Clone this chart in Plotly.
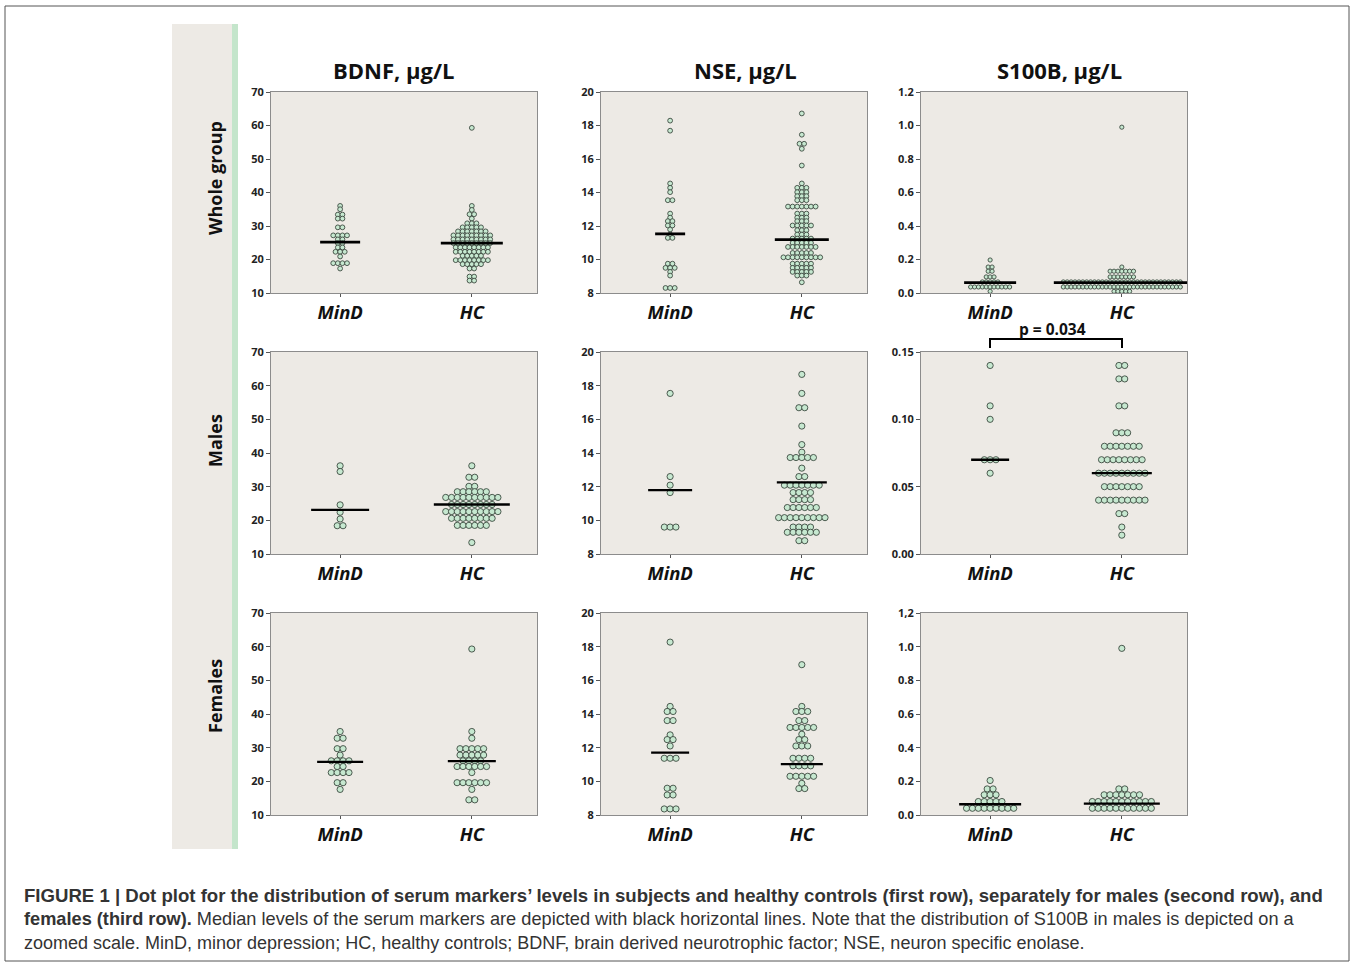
import plotly.graph_objects as go

# ---------------- DATA ----------------
GROUPS = ["MinD", "HC"]
MARKERS = ["BDNF, μg/L", "NSE, μg/L", "S100B, μg/L"]
ROW_LABELS = ["Whole group", "Males", "Females"]

# Whole group
bdnf_all_mind_lv = [36.0, 35.0, 33.4, 32.2, 29.6, 27.2, 26.0, 24.9, 23.6, 22.3, 20.9, 18.9, 17.3]
bdnf_all_mind_n = [1, 1, 2, 2, 2, 4, 2, 2, 2, 3, 1, 4, 1]
bdnf_all_hc_lv = [59.3, 36.0, 34.8, 33.5, 32.2, 30.8, 29.6, 28.4, 27.2, 26.0, 24.9, 23.6, 22.3, 21.1, 19.8, 18.6, 17.3, 14.9, 13.7]
bdnf_all_hc_n = [1, 1, 1, 2, 1, 3, 5, 7, 9, 9, 9, 8, 8, 5, 8, 5, 2, 2, 2]
nse_all_mind_lv = [18.29, 17.69, 14.54, 14.28, 14.02, 13.54, 12.74, 12.5, 12.29, 12.03, 11.79, 11.49, 11.29, 9.75, 9.5, 9.26, 9.04, 8.3]
nse_all_mind_n = [1, 1, 1, 1, 1, 2, 1, 1, 2, 2, 1, 1, 2, 2, 3, 1, 1, 3]
nse_all_hc_lv = [18.72, 17.45, 16.91, 16.61, 15.61, 14.54, 14.28, 14.02, 13.78, 13.54, 13.16, 12.74, 12.5, 12.29, 12.03, 11.75, 11.49, 11.25, 10.99, 10.75, 10.39, 10.13, 9.75, 9.5, 9.26, 9.04, 8.64]
nse_all_hc_n = [1, 1, 2, 1, 1, 1, 3, 3, 3, 3, 7, 3, 3, 3, 5, 3, 3, 5, 5, 7, 5, 9, 5, 5, 5, 3, 1]
s100b_all_mind_lv = [0.197, 0.155, 0.13, 0.096, 0.066, 0.036, 0.01]
s100b_all_mind_n = [1, 2, 2, 3, 5, 11, 1]
s100b_all_hc_lv = [0.99, 0.155, 0.13, 0.096, 0.066, 0.036, 0.01]
s100b_all_hc_n = [1, 1, 7, 7, 31, 31, 5]

# Males
bdnf_m_mind_lv = [36.2, 34.5, 24.6, 22.4, 20.4, 18.4]
bdnf_m_mind_n = [1, 1, 1, 1, 1, 2]
bdnf_m_hc_lv = [36.2, 32.8, 30.1, 28.5, 26.8, 24.7, 22.6, 20.6, 18.5, 13.4]
bdnf_m_hc_n = [1, 2, 2, 6, 10, 8, 10, 8, 6, 1]
nse_m_mind_lv = [17.54, 12.6, 12.09, 11.65, 9.6]
nse_m_mind_n = [1, 1, 1, 1, 3]
nse_m_hc_lv = [18.67, 17.54, 16.69, 15.6, 14.5, 14.05, 13.73, 13.1, 12.6, 12.09, 11.65, 11.23, 10.76, 10.16, 9.6, 9.29, 8.79]
nse_m_hc_n = [1, 1, 2, 1, 1, 1, 5, 1, 2, 7, 4, 4, 6, 9, 4, 6, 2]
s100b_m_mind_lv = [0.14, 0.11, 0.10, 0.07, 0.06]
s100b_m_mind_n = [1, 1, 1, 3, 1]
s100b_m_hc_lv = [0.14, 0.13, 0.11, 0.09, 0.08, 0.07, 0.06, 0.05, 0.04, 0.03, 0.02, 0.014]
s100b_m_hc_n = [2, 2, 2, 3, 7, 8, 9, 7, 9, 2, 1, 1]

# Females
bdnf_f_mind_lv = [34.8, 32.8, 29.7, 27.8, 26.1, 24.4, 22.6, 19.6, 17.6]
bdnf_f_mind_n = [1, 2, 2, 1, 4, 2, 4, 2, 1]
bdnf_f_hc_lv = [59.3, 34.8, 32.8, 29.7, 27.8, 26.1, 24.4, 22.6, 19.6, 17.6, 14.5]
bdnf_f_hc_n = [1, 1, 1, 5, 5, 4, 6, 1, 6, 1, 2]
nse_f_mind_lv = [18.27, 14.45, 14.15, 13.61, 12.76, 12.48, 12.1, 11.37, 9.59, 9.19, 8.36]
nse_f_mind_n = [1, 1, 2, 2, 1, 2, 1, 3, 2, 2, 3]
nse_f_hc_lv = [16.93, 14.45, 14.15, 13.61, 13.2, 12.8, 12.48, 12.1, 11.37, 10.92, 10.3, 9.88, 9.57]
nse_f_hc_n = [1, 1, 3, 2, 5, 1, 2, 3, 4, 4, 5, 1, 2]
s100b_f_mind_lv = [0.205, 0.155, 0.12, 0.08, 0.04]
s100b_f_mind_n = [1, 2, 3, 5, 9]
s100b_f_hc_lv = [0.99, 0.155, 0.12, 0.08, 0.04]
s100b_f_hc_n = [1, 2, 7, 11, 11]

# Medians [MinD, HC]
med_bdnf_all = [25.2, 24.9]
med_nse_all = [11.53, 11.19]
med_s100b_all = [0.062, 0.062]
med_bdnf_m = [23.1, 24.7]
med_nse_m = [11.79, 12.26]
med_s100b_m = [0.07, 0.06]
med_bdnf_f = [25.8, 26.0]
med_nse_f = [11.71, 11.02]
med_s100b_f = [0.064, 0.068]

P_TEXT = "p = 0.034"

CAPTION_1 = ("FIGURE 1 | Dot plot for the distribution of serum markers\u2019 levels in subjects and healthy "
             "controls (first row), separately for males (second row), and")
CAPTION_2B = "females (third row)."
CAPTION_2 = (" Median levels of the serum markers are depicted with black horizontal lines. Note that the "
             "distribution of S100B in males is depicted on a")
CAPTION_3 = ("zoomed scale. MinD, minor depression; HC, healthy controls; BDNF, brain derived neurotrophic "
             "factor; NSE, neuron specific enolase.")

# Y axis ranges / ticks per panel (row, col)
Y_RANGES = [[(10, 70), (8, 20), (0, 1.2)],
            [(10, 70), (8, 20), (0, 0.15)],
            [(10, 70), (8, 20), (0, 1.2)]]
BDNF_TICKS = [10, 20, 30, 40, 50, 60, 70]
NSE_TICKS = [8, 10, 12, 14, 16, 18, 20]
S100B_TICKS = [0.0, 0.2, 0.4, 0.6, 0.8, 1.0, 1.2]
S100B_TICKTEXT_ALL = ["0.0", "0.2", "0.4", "0.6", "0.8", "1.0", "1.2"]
S100B_TICKTEXT_F = ["0.0", "0.2", "0.4", "0.6", "0.8", "1.0", "1,2"]
S100B_M_TICKS = [0.0, 0.05, 0.10, 0.15]
S100B_M_TICKTEXT = ["0.00", "0.05", "0.10", "0.15"]

# ---------------- LAYOUT CONSTANTS ----------------
W, H = 1354, 967
COL_X = [(271, 537), (601, 867), (921, 1187)]
ROW_Y = [(92, 293), (352, 554), (613, 815)]
XR = [-0.525, 1.495]
DOT_SP = [[4.6, 4.6, 3.9], [5.8, 5.8, 5.8], [5.9, 5.9, 5.9]]
DOT_SZ = [[4.8, 4.8, 4.2], [6.2, 6.2, 6.2], [6.2, 6.2, 6.2]]
MED_HALF = [[[20, 31], [15, 27], [26, 68]],
            [[29, 38], [22, 25], [19, 30]],
            [[23, 24], [19, 21], [31, 38]]]
MED_W = [2.8, 2.3, 2.3]
BG = "#edeae5"
DOT_FILL = "#c6e8d0"
DOT_LINE = "#3c4a40"
FONT = "Open Sans"

DATA = [
    [[(bdnf_all_mind_lv, bdnf_all_mind_n), (bdnf_all_hc_lv, bdnf_all_hc_n)],
     [(nse_all_mind_lv, nse_all_mind_n), (nse_all_hc_lv, nse_all_hc_n)],
     [(s100b_all_mind_lv, s100b_all_mind_n), (s100b_all_hc_lv, s100b_all_hc_n)]],
    [[(bdnf_m_mind_lv, bdnf_m_mind_n), (bdnf_m_hc_lv, bdnf_m_hc_n)],
     [(nse_m_mind_lv, nse_m_mind_n), (nse_m_hc_lv, nse_m_hc_n)],
     [(s100b_m_mind_lv, s100b_m_mind_n), (s100b_m_hc_lv, s100b_m_hc_n)]],
    [[(bdnf_f_mind_lv, bdnf_f_mind_n), (bdnf_f_hc_lv, bdnf_f_hc_n)],
     [(nse_f_mind_lv, nse_f_mind_n), (nse_f_hc_lv, nse_f_hc_n)],
     [(s100b_f_mind_lv, s100b_f_mind_n), (s100b_f_hc_lv, s100b_f_hc_n)]],
]
MEDIANS = [[med_bdnf_all, med_nse_all, med_s100b_all],
           [med_bdnf_m, med_nse_m, med_s100b_m],
           [med_bdnf_f, med_nse_f, med_s100b_f]]


def px2fx(px):
    return px / W


def py2fy(py):
    return 1 - py / H


fig = go.Figure()
layout = dict(width=W, height=H, autosize=False,
              margin=dict(l=0, r=0, t=0, b=0, pad=0, autoexpand=False),
              paper_bgcolor="white", plot_bgcolor=BG, showlegend=False,
              font=dict(family=FONT, color="#222222"))

for r in range(3):
    for c in range(3):
        k = r * 3 + c + 1
        xa = "xaxis" if k == 1 else f"xaxis{k}"
        ya = "yaxis" if k == 1 else f"yaxis{k}"
        xref = "x" if k == 1 else f"x{k}"
        yref = "y" if k == 1 else f"y{k}"
        x0, x1 = COL_X[c]
        y0, y1 = ROW_Y[r]
        upp = (XR[1] - XR[0]) / (x1 - x0)
        layout[xa] = dict(domain=[px2fx(x0), px2fx(x1)], range=XR, anchor=yref,
                          automargin=False,
                          tickvals=[0, 1], ticktext=GROUPS, ticks="outside", ticklen=3,
                          tickcolor="#555", showgrid=False, zeroline=False,
                          showline=True, mirror=True, linecolor="#8c8c8c", linewidth=1,
                          tickfont=dict(family=FONT, size=18.5, weight="bold", style="italic",
                                        color="#111"), fixedrange=True)
        yr = Y_RANGES[r][c]
        if c == 0:
            tv, tt = BDNF_TICKS, [str(v) for v in BDNF_TICKS]
        elif c == 1:
            tv, tt = NSE_TICKS, [str(v) for v in NSE_TICKS]
        elif r == 1:
            tv, tt = S100B_M_TICKS, S100B_M_TICKTEXT
        elif r == 2:
            tv, tt = S100B_TICKS, S100B_TICKTEXT_F
        else:
            tv, tt = S100B_TICKS, S100B_TICKTEXT_ALL
        layout[ya] = dict(domain=[py2fy(y1), py2fy(y0)], range=list(yr), anchor=xref,
                          automargin=False,
                          tickvals=tv, ticktext=tt, ticks="outside", ticklen=4, tickcolor="#555",
                          showgrid=False, zeroline=False, showline=True, mirror=True,
                          linecolor="#8c8c8c", linewidth=1,
                          tickfont=dict(family=FONT, size=11, weight="bold", color="#222"),
                          fixedrange=True)
        for g in range(2):
            lv, ns = DATA[r][c][g]
            xs, ys = [], []
            for v, n in zip(lv, ns):
                for i in range(n):
                    off = (i - (n - 1) / 2) * DOT_SP[r][c] * upp
                    xs.append(g + off)
                    ys.append(v)
            fig.add_trace(go.Scatter(x=xs, y=ys, xaxis=xref, yaxis=yref, mode="markers",
                                     marker=dict(size=DOT_SZ[r][c], color=DOT_FILL,
                                                 line=dict(color=DOT_LINE, width=0.9)),
                                     hoverinfo="skip", cliponaxis=False))
            m = MEDIANS[r][c][g]
            hw = MED_HALF[r][c][g] * upp
            fig.add_trace(go.Scatter(x=[g - hw, g + hw], y=[m, m], xaxis=xref, yaxis=yref,
                                     mode="lines", line=dict(color="black", width=MED_W[r]),
                                     hoverinfo="skip"))

shapes = []
annotations = []
# outer border
shapes.append(dict(type="rect", xref="paper", yref="paper", x0=px2fx(5), x1=px2fx(1349),
                   y0=py2fy(961), y1=py2fy(6), line=dict(color="#555", width=1)))
# row label panel
shapes.append(dict(type="rect", xref="paper", yref="paper", x0=px2fx(172), x1=px2fx(232),
                   y0=py2fy(849), y1=py2fy(24), fillcolor=BG, line=dict(width=0), layer="below"))
shapes.append(dict(type="rect", xref="paper", yref="paper", x0=px2fx(232), x1=px2fx(238),
                   y0=py2fy(849), y1=py2fy(24), fillcolor="#c4e5cb", line=dict(width=0),
                   layer="below"))
# p-value bracket
shapes.append(dict(type="path", xref="paper", yref="paper",
                   path=(f"M {px2fx(990)} {py2fy(348)} L {px2fx(990)} {py2fy(339)} "
                         f"L {px2fx(1122)} {py2fy(339)} L {px2fx(1122)} {py2fy(348)}"),
                   line=dict(color="black", width=2)))
annotations.append(dict(text=f"<b>{P_TEXT}</b>", xref="paper", yref="paper", x=px2fx(1052),
                        y=py2fy(329), showarrow=False, xanchor="center", yanchor="middle",
                        font=dict(family=FONT, size=15.5, color="#111")))

TITLE_X = [393, 745, 1059]
for c in range(3):
    annotations.append(dict(text=f"<b>{MARKERS[c]}</b>", xref="paper", yref="paper",
                            x=px2fx(TITLE_X[c]), y=py2fy(70), showarrow=False,
                            xanchor="center", yanchor="middle",
                            font=dict(family=FONT, size=22, color="#111")))
ROW_LABEL_Y = [178, 441, 696]
for r in range(3):
    annotations.append(dict(text=f"<b>{ROW_LABELS[r]}</b>", xref="paper", yref="paper",
                            x=px2fx(215), y=py2fy(ROW_LABEL_Y[r]), showarrow=False,
                            textangle=-90, xanchor="center", yanchor="middle",
                            font=dict(family=FONT, size=18, color="#111")))

CAP_FONT = "Liberation Sans"
cap_lines = [f"<b>{CAPTION_1}</b>", f"<b>{CAPTION_2B}</b>{CAPTION_2}", CAPTION_3]
cap_sizes = [18.6, 18.2, 18.0]
for i, t in enumerate(cap_lines):
    annotations.append(dict(text=t, xref="paper", yref="paper", x=px2fx(22),
                            y=py2fy(895 + 24 * i), showarrow=False, xanchor="left",
                            yanchor="middle", align="left",
                            font=dict(family=CAP_FONT, size=cap_sizes[i], color="#333")))

layout["shapes"] = shapes
layout["annotations"] = annotations
fig.update_layout(**layout)
fig.write_html("out.html", config={"displayModeBar": False},
               post_script="document.body.style.margin='0px';")
